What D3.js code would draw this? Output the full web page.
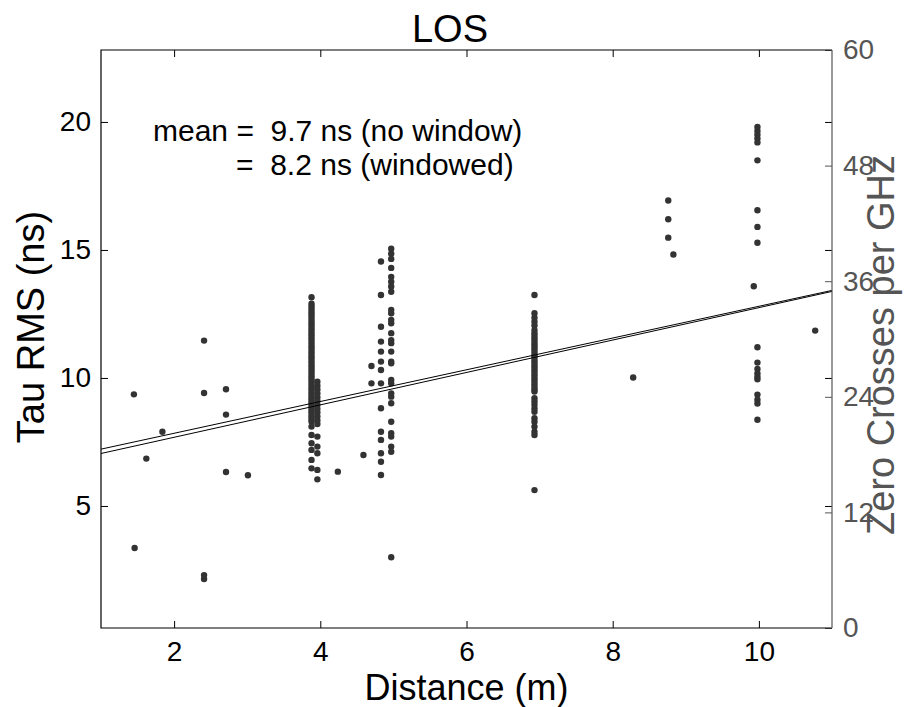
<!DOCTYPE html>
<html>
<head>
<meta charset="utf-8">
<script src="https://cdn.jsdelivr.net/npm/d3@7"></script>
<style>
  html, body { margin: 0; padding: 0; background: #fff; }
  svg { display: block; font-family: "Liberation Sans", Arial, Helvetica, sans-serif; }
  .pre { white-space: pre; }
</style>
</head>
<body>
<svg id="chart" width="909" height="707"></svg>
<script>
// ---- data: RMS delay spread (ns) measured at each distance (m) ----
// isolated measurements
const sparseDist = [1.45, 1.46, 1.62, 1.84, 2.41, 2.41, 2.41, 2.41, 2.71, 2.71, 2.71, 3.01, 4.24, 4.59, 4.70, 4.70, 4.97, 8.28, 8.76, 8.76, 8.76, 8.83, 9.93, 10.77];
const sparseTau  = [9.36, 3.36, 6.85, 7.90, 11.46, 9.41, 2.15, 2.30, 9.56, 8.57, 6.33, 6.20, 6.34, 6.99, 10.47, 9.79, 3.00, 10.02, 16.93, 16.20, 15.48, 14.82, 13.58, 11.85];

// 4 m position, main column
const col4Dist = 3.88;
const col4Tau = [13.15, 12.9, 12.8, 12.7, 12.6, 12.5, 12.4, 12.3, 12.2, 12.1, 12.0, 11.9, 11.8, 11.7, 11.6, 11.5, 11.4, 11.3, 11.2, 11.1, 11.0, 10.9, 10.8, 10.7, 10.6, 10.5, 10.4, 10.3, 10.2, 10.1, 10.0, 9.9, 9.8, 9.7, 9.6, 9.5, 9.4, 9.3, 9.2, 9.1, 9.0, 8.9, 8.8, 8.7, 8.6, 8.5, 8.4, 8.3, 8.1, 7.77, 7.45, 7.19, 6.80, 6.47];
// 4 m position, second column
const col4bDist = 3.96;
const col4bTau = [9.85, 9.7, 9.55, 9.4, 9.25, 9.1, 8.95, 8.8, 8.65, 8.5, 8.35, 8.2, 7.71, 7.32, 7.06, 6.41, 6.04];

// 5 m position
const col5Dist = 4.97;
const col5Tau = [15.05, 14.85, 14.65, 14.3, 13.95, 13.76, 13.57, 13.37, 12.66, 12.53, 12.27, 12.14, 11.75, 11.48, 11.36, 11.03, 10.64, 10.57, 9.92, 9.79, 9.40, 9.27, 9.01, 8.29, 7.84, 7.71, 7.32, 7.12];
const col5bDist = 4.83;
const col5bTau = [14.55, 13.24, 12.0, 11.42, 11.03, 10.64, 10.31, 9.79, 8.82, 7.90, 7.58, 7.06, 6.73, 6.21];

// 7 m position
const col7Dist = 6.93;
const col7Tau = [13.24, 12.53, 12.35, 12.2, 12.05, 11.87, 11.75, 11.65, 11.55, 11.45, 11.35, 11.25, 11.15, 11.05, 10.95, 10.85, 10.75, 10.65, 10.55, 10.45, 10.35, 10.25, 10.15, 10.05, 9.95, 9.85, 9.75, 9.65, 9.55, 9.47, 9.21, 9.08, 8.95, 8.81, 8.68, 8.43, 8.29, 8.10, 7.90, 7.77, 5.62];

// 10 m position
const col10Dist = 9.98;
const col10Tau = [19.8, 19.65, 19.5, 19.35, 19.2, 18.5, 16.55, 15.9, 15.28, 11.2, 10.6, 10.35, 10.18, 10.05, 9.95, 9.35, 9.15, 9.0, 8.37];

// linear fits (endpoints at the axis limits)
const fitDist = [1, 11];
const fitNoWindow = [7.22, 13.42];
const fitWindowed = [7.05, 13.38];

// axes
const xTicks = [2, 4, 6, 8, 10];
const yTicks = [5, 10, 15, 20];
const zcTicks = [0, 12, 24, 36, 48, 60];

const titleText = "LOS";
const xLabel = "Distance (m)";
const yLabel = "Tau RMS (ns)";
const y2Label = "Zero Crosses per GHz";
const note1 = "mean =  9.7 ns (no window)";
const note2 = "=  8.2 ns (windowed)";

// ---- layout ----
const L = 101, R = 832, T = 50, B = 628;
const svg = d3.select("#chart");

const x = d3.scaleLinear().domain([1, 11]).range([L, R]);
const y = d3.scaleLinear().domain([0.234, 22.81]).range([B, T]);
const y2 = d3.scaleLinear().domain([0, 60]).range([B, T]);

const tickFont = 28;

// points
const points = [];
sparseDist.forEach((d, i) => points.push([d, sparseTau[i]]));
col4Tau.forEach(v => points.push([col4Dist, v]));
col4bTau.forEach(v => points.push([col4bDist, v]));
col5Tau.forEach(v => points.push([col5Dist, v]));
col5bTau.forEach(v => points.push([col5bDist, v]));
col7Tau.forEach(v => points.push([col7Dist, v]));
col10Tau.forEach(v => points.push([col10Dist, v]));

svg.append("g").selectAll("circle").data(points).join("circle")
  .attr("cx", d => x(d[0]))
  .attr("cy", d => y(d[1]))
  .attr("r", 3.2)
  .attr("fill", "#333");

// fit lines
const line = d3.line().x(d => x(d[0])).y(d => y(d[1]));
[fitNoWindow, fitWindowed].forEach(f => {
  svg.append("path")
    .datum(fitDist.map((d, i) => [d, f[i]]))
    .attr("d", line)
    .attr("fill", "none")
    .attr("stroke", "#000")
    .attr("stroke-width", 1);
});

// axes
function style(g, color, showLabels) {
  g.select(".domain").remove();
  g.selectAll(".tick line").attr("stroke", color).attr("stroke-width", 1);
  g.selectAll(".tick text").attr("fill", color).attr("font-size", tickFont)
    .style("display", showLabels ? null : "none");
}

svg.append("g").attr("transform", `translate(0,${B})`)
  .call(d3.axisBottom(x).tickValues(xTicks).tickSize(-7).tickPadding(13).tickFormat(d3.format("d")))
  .call(g => style(g, "#000", true));
svg.append("g").attr("transform", `translate(0,${T})`)
  .call(d3.axisTop(x).tickValues(xTicks).tickSize(-7).tickFormat(""))
  .call(g => style(g, "#000", false));
svg.append("g").attr("transform", `translate(${L},0)`)
  .call(d3.axisLeft(y).tickValues(yTicks).tickSize(-7).tickPadding(10).tickFormat(d3.format("d")))
  .call(g => style(g, "#000", true));
svg.append("g").attr("transform", `translate(${R},0)`)
  .call(d3.axisRight(y).tickValues(yTicks).tickSize(-7).tickFormat(""))
  .call(g => style(g, "#000", false));
svg.append("g").attr("transform", `translate(${R},0)`)
  .call(d3.axisRight(y2).tickValues(zcTicks).tickSize(-7).tickPadding(11).tickFormat(d3.format("d")))
  .call(g => style(g, "#555", true));

// box
svg.append("path")
  .attr("d", `M${R},${T}H${L}V${B}H${R}`)
  .attr("fill", "none").attr("stroke", "#000").attr("stroke-width", 1.2);
svg.append("line")
  .attr("x1", R).attr("x2", R).attr("y1", T).attr("y2", B)
  .attr("stroke", "#555").attr("stroke-width", 1.2);

// labels
svg.append("text").attr("x", 450).attr("y", 42).attr("text-anchor", "middle")
  .attr("font-size", 38).attr("fill", "#000").text(titleText);
svg.append("text").attr("x", (L + R) / 2).attr("y", 700).attr("text-anchor", "middle")
  .attr("font-size", 36).attr("fill", "#000").text(xLabel);
svg.append("text").attr("transform", "translate(44,327) rotate(-90)").attr("text-anchor", "middle")
  .attr("font-size", 38).attr("fill", "#000").text(yLabel);
svg.append("text").attr("transform", "translate(894,345) rotate(-90)").attr("text-anchor", "middle")
  .attr("font-size", 38).attr("fill", "#555").text(y2Label);

// annotation
svg.append("text").attr("class", "pre").attr("x", 153).attr("y", 141)
  .attr("font-size", 30).attr("fill", "#000").text(note1);
svg.append("text").attr("class", "pre").attr("x", 236).attr("y", 175)
  .attr("font-size", 30).attr("fill", "#000").text(note2);
</script>
</body>
</html>
